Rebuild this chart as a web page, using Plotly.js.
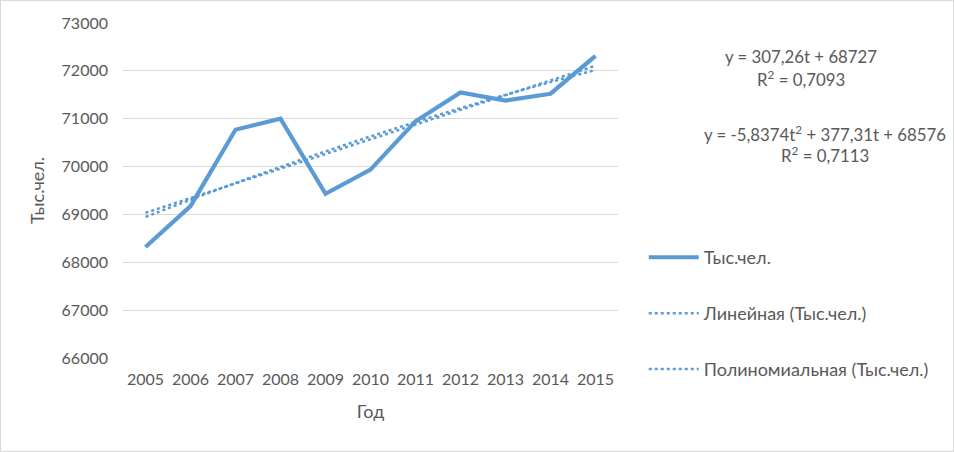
<!DOCTYPE html>
<html>
<head>
<meta charset="utf-8">
<script src="https://cdn.plot.ly/plotly-3.0.1.min.js"></script>
<style>
html,body{margin:0;padding:0;background:#fff;}
#wrap{position:relative;width:954px;height:452px;}
#chart{position:absolute;left:0;top:0;width:954px;height:452px;}
#frame{position:absolute;left:0;top:0;width:954px;height:452px;box-sizing:border-box;border:1px solid #d9d9d9;pointer-events:none;}
</style>
</head>
<body>
<div id="wrap"><div id="chart"></div><div id="frame"></div></div>
<script>
const years = ['2005','2006','2007','2008','2009','2010','2011','2012','2013','2014','2015'];
const population = [68320, 69175, 70770, 71000, 69432, 69937, 70945, 71550, 71380, 71522, 72313];
const linearTrend = [69034.26, 69341.52, 69648.78, 69956.04, 70263.30, 70570.56, 70877.82, 71185.08, 71492.34, 71799.60, 72106.86];
const polyTrend = [68947.47, 69307.27, 69655.39, 69991.84, 70316.61, 70629.71, 70931.14, 71220.89, 71498.96, 71765.36, 72020.08];
const seriesNames = ['Тыс.чел.', 'Линейная (Тыс.чел.)', 'Полиномиальная (Тыс.чел.)'];
const eqLinear = ['y = 307,26t + 68727', 'R<sup>2</sup> = 0,7093'];
const eqPoly = ['y = -5,8374t<sup>2</sup> + 377,31t + 68576', 'R<sup>2</sup> = 0,7113'];

const blue = '#5b9bd5';
const txt = '#595959';
const font = 'Lato, "Open Sans", sans-serif';
const eqFont = {family: font, size: 16.8, color: txt};

const data = [
  {x: years, y: population, type: 'scatter', mode: 'lines', name: seriesNames[0],
   line: {color: blue, width: 4.2}, legendgroup: 'a'},
  {x: years, y: linearTrend, type: 'scatter', mode: 'lines', name: seriesNames[1],
   line: {color: blue, width: 2.5, dash: 'dot'}, legendgroup: 'b'},
  {x: years, y: polyTrend, type: 'scatter', mode: 'lines', name: seriesNames[2],
   line: {color: blue, width: 2.5, dash: 'dot', shape: 'spline'}, legendgroup: 'c'}
];

const layout = {
  width: 954, height: 452,
  margin: {l: 123, r: 336, t: 23, b: 94},
  paper_bgcolor: '#fff', plot_bgcolor: '#fff',
  font: {family: font, size: 16, color: txt},
  showlegend: true,
  legend: {x: 1.052, xanchor: 'left', y: 0.355, yanchor: 'top',
    itemwidth: 50, tracegroupgap: 29.5, traceorder: 'grouped',
    font: {family: font, size: 18, color: txt}, bgcolor: 'rgba(0,0,0,0)'},
  xaxis: {type: 'category', range: [-0.5, 10.5], showgrid: false, zeroline: false,
    showline: false, ticks: '', ticklabelstandoff: 10,
    tickfont: {family: font, size: 16, color: txt},
    title: {text: 'Год', font: {family: font, size: 18, color: txt}, standoff: 18}},
  yaxis: {range: [66000, 73000], dtick: 1000, tickformat: 'd', showgrid: true,
    gridcolor: '#d9d9d9', gridwidth: 1, zeroline: false, showline: false, ticks: '',
    ticklabelstandoff: 14, tickfont: {family: font, size: 16, color: txt},
    title: {text: 'Тыс.чел.', font: {family: font, size: 18, color: txt}, standoff: 12}},
  annotations: [
    {xref: 'paper', yref: 'paper', x: 1.370, y: 0.899, text: eqLinear[0], showarrow: false,
     xanchor: 'center', yanchor: 'middle', font: eqFont},
    {xref: 'paper', yref: 'paper', x: 1.370, y: 0.833, text: eqLinear[1], showarrow: false,
     xanchor: 'center', yanchor: 'middle', font: eqFont},
    {xref: 'paper', yref: 'paper', x: 1.419, y: 0.669, text: eqPoly[0], showarrow: false,
     xanchor: 'center', yanchor: 'middle', font: eqFont},
    {xref: 'paper', yref: 'paper', x: 1.419, y: 0.606, text: eqPoly[1], showarrow: false,
     xanchor: 'center', yanchor: 'middle', font: eqFont}
  ]
};

Plotly.newPlot('chart', data, layout, {displayModeBar: false, staticPlot: true});
</script>
</body>
</html>
